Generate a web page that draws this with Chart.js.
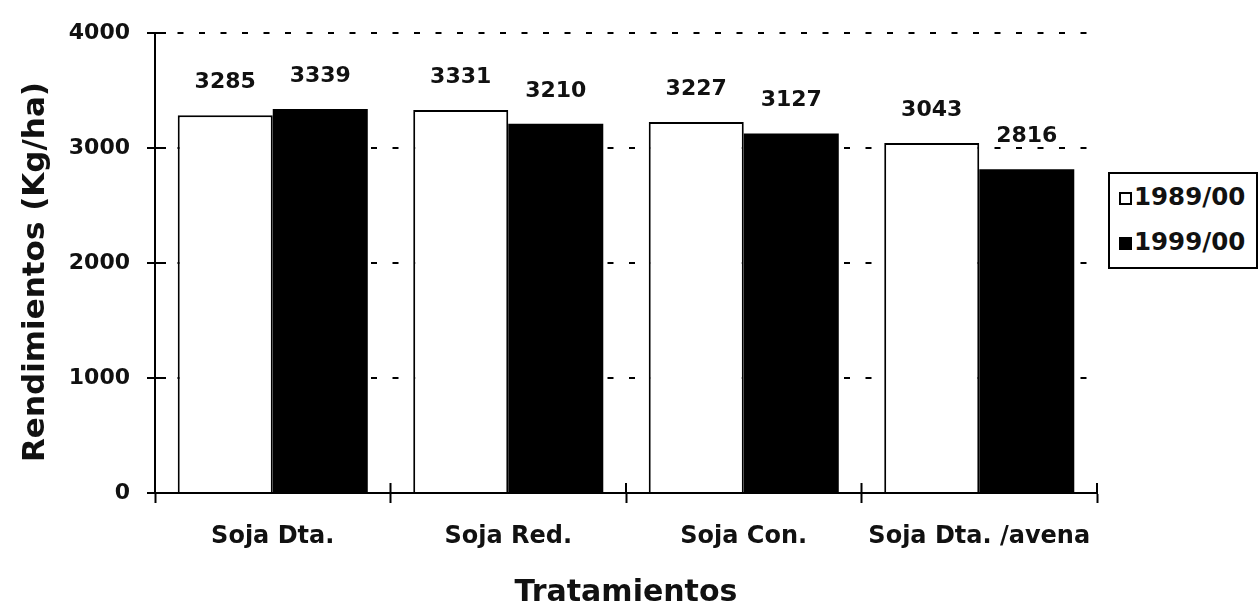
<!DOCTYPE html>
<html>
<head>
<meta charset="utf-8">
<script src="https://cdn.jsdelivr.net/npm/chart.js@4.4.1/dist/chart.umd.min.js"></script>
<style>
  html, body { margin: 0; padding: 0; background: #fff; }
  #wrap { position: relative; width: 1258px; height: 608px; }
  #legend {
    position: absolute; left: 1108px; top: 172px; width: 146px; height: 93px;
    border: 2px solid #000; background: #fff;
    font-family: "DejaVu Sans", sans-serif; font-weight: bold; font-size: 24.5px; color: #111;
  }
  .item { position: absolute; left: 9px; height: 28px; line-height: 28px; white-space: nowrap; }
  .sw { display: inline-block; box-sizing: border-box; width: 13px; height: 13px; border: 2px solid #000; margin-right: 2px; vertical-align: 0px; }
</style>
</head>
<body>
<div id="wrap">
  <canvas id="c" width="1258" height="608"></canvas>
  <div id="legend"></div>
</div>
<script>
const categories = ["Soja Dta.", "Soja Red.", "Soja Con.", "Soja Dta. /avena"];
const seriesNames = ["1989/00", "1999/00"];
const values1989 = [3285, 3331, 3227, 3043];
const values1999 = [3339, 3210, 3127, 2816];
const yTicks = [0, 1000, 2000, 3000, 4000];
const yTitle = "Rendimientos (Kg/ha)";
const xTitle = "Tratamientos";

const FONT = '"DejaVu Sans", sans-serif';

// legend (HTML)
const lg = document.getElementById('legend');
const fills = ['#ffffff', '#000000'];
seriesNames.forEach((n, i) => {
  const d = document.createElement('div');
  d.className = 'item';
  d.style.top = (i === 0 ? 9 : 54) + 'px';
  const s = document.createElement('span');
  s.className = 'sw';
  s.style.background = fills[i];
  d.appendChild(s);
  d.appendChild(document.createTextNode(n));
  lg.appendChild(d);
});

const crossTicks = {
  id: 'crossTicks',
  afterDraw(chart) {
    const ctx = chart.ctx;
    const y = chart.scales.y;
    const ca = chart.chartArea;
    ctx.save();
    ctx.strokeStyle = '#000';
    ctx.lineWidth = 2;
    ctx.beginPath();
    yTicks.forEach(v => {
      const py = y.getPixelForValue(v);
      ctx.moveTo(ca.left, py); ctx.lineTo(ca.left + 11, py);
    });
    const n = categories.length;
    for (let i = 0; i <= n; i++) {
      const px = ca.left + (ca.right - ca.left) * i / n;
      ctx.moveTo(px, ca.bottom); ctx.lineTo(px, ca.bottom - 10);
    }
    ctx.stroke();
    // value labels
    ctx.fillStyle = '#111';
    ctx.font = 'bold 22px ' + FONT;
    ctx.textAlign = 'center';
    ctx.textBaseline = 'middle';
    chart.data.datasets.forEach((ds, di) => {
      const meta = chart.getDatasetMeta(di);
      meta.data.forEach((bar, i) => {
        ctx.fillText(String(ds.data[i]), bar.x, bar.y - 33);
      });
    });
    // y axis title
    ctx.translate(36, (ca.top + ca.bottom) / 2 + 9);
    ctx.rotate(-Math.PI / 2);
    ctx.font = 'bold 31px ' + FONT;
    ctx.fillText(yTitle, 0, 0);
    ctx.restore();
  }
};

new Chart(document.getElementById('c'), {
  type: 'bar',
  data: {
    labels: categories,
    datasets: [
      { label: seriesNames[0], data: values1989, backgroundColor: '#ffffff', borderColor: '#000', borderWidth: 2, borderSkipped: 'bottom' },
      { label: seriesNames[1], data: values1999, backgroundColor: '#000000', borderColor: '#000', borderWidth: 0 }
    ]
  },
  options: {
    responsive: false,
    animation: false,
    layout: { padding: { top: 33, right: 161, left: 0, bottom: 0 } },
    plugins: { legend: { display: false }, tooltip: { enabled: false } },
    datasets: { bar: { categoryPercentage: 0.807, barPercentage: 1.0 } },
    scales: {
      x: {
        grid: { offset: true, drawOnChartArea: false, drawTicks: true, tickLength: 10, tickColor: '#000', tickWidth: 2 },
        border: { display: true, color: '#000', width: 2 },
        ticks: { color: '#111', font: { family: FONT, size: 24, weight: 'bold' }, padding: 19 },
        title: { display: true, text: xTitle, color: '#111', font: { family: FONT, size: 30, weight: 'bold', lineHeight: 1.0 }, padding: { top: 0, bottom: 0 } },
        afterFit(s) { s.height = 115; }
      },
      y: {
        min: 0, max: 4000,
        afterBuildTicks(s) { s.ticks = yTicks.map(v => ({ value: v })); },
        grid: { color: '#000', lineWidth: 2, drawTicks: true, tickLength: 8, tickColor: '#000', tickWidth: 2, tickBorderDash: [] },
        border: { display: true, color: '#000', width: 2, dash: [6, 15.5], dashOffset: 0 },
        ticks: { color: '#111', font: { family: FONT, size: 22, weight: 'bold' }, padding: 17, callback: v => String(v) },
        title: { display: false },
        afterFit(s) { s.width = 155; }
      }
    }
  },
  plugins: [crossTicks]
});
</script>
</body>
</html>
